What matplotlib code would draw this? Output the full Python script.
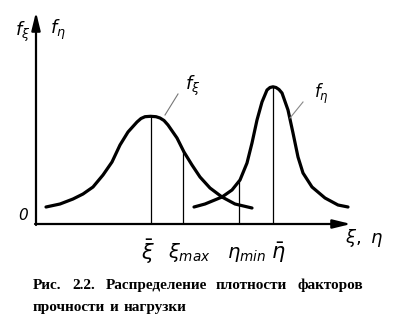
import matplotlib
matplotlib.use("Agg")
import matplotlib.pyplot as plt

plt.rcParams['mathtext.fontset'] = 'dejavusans'

# Strength distribution f_xi (x offset from vertical axis, height above horizontal axis)
xi_x = [10, 24, 37, 47, 57, 67, 76, 84, 92, 101, 105, 109, 114.5, 120, 124, 128, 132, 141, 148, 156, 164, 174, 186, 199, 216]
xi_y = [17, 20, 25, 30, 37, 49, 62, 79, 92, 102, 105.5, 107.3, 107.7, 107.3, 106, 103.5, 99, 86, 72, 59, 47, 36, 27, 20, 16]

# Load distribution f_eta
eta_x = [158, 169, 186, 196, 204, 211, 216, 221, 226, 231, 234, 237, 240, 243, 246, 252, 257, 262, 267, 276, 289, 302, 312]
eta_y = [17, 20, 27, 34, 44, 61, 81, 104, 122, 134, 136.5, 137.2, 136.5, 134.5, 131, 114, 91, 67, 51, 37, 26, 19, 17]

# Marked positions on the horizontal axis and the height of their drop lines
mark_x = [114.5, 147, 203, 237]
mark_h = [107.7, 73, 44, 137.2]
mark_labels = [r'$\bar{\xi}$', r'$\xi_{max}$', r'$\eta_{min}$', r'$\bar{\eta}$']

caption_line1 = ['Рис.', '2.2.', 'Распределение', 'плотности', 'факторов']
caption_line2 = ['прочности', 'и', 'нагрузки']

fig = plt.figure(figsize=(3.98, 3.26), dpi=100)
ax = fig.add_axes([0, 0, 1, 1])
ax.set_xlim(-36, 362)
ax.set_ylim(-102, 224)
ax.axis('off')

# axes with arrows
ax.annotate('', xy=(0, 212), xytext=(0, -1),
            arrowprops=dict(arrowstyle='-|>,head_length=0.9,head_width=0.22',
                            lw=1.6, color='black', shrinkA=0, shrinkB=0, mutation_scale=12))
ax.annotate('', xy=(315, 0), xytext=(-1, 0),
            arrowprops=dict(arrowstyle='-|>,head_length=0.9,head_width=0.22',
                            lw=1.6, color='black', shrinkA=0, shrinkB=0, mutation_scale=12))

# curves
ax.plot(xi_x, xi_y, color='black', lw=2.3, solid_capstyle='round', solid_joinstyle='round')
ax.plot(eta_x, eta_y, color='black', lw=2.3, solid_capstyle='round', solid_joinstyle='round')

# drop lines
ax.vlines(mark_x, 0, mark_h, color='black', lw=0.9)

# tick labels
label_offsets = [(-3, -28), (6, -29), (8, -30), (5, -29)]
label_sizes = [15, 14, 14, 15]
for x, lab, (dx, dy), fs in zip(mark_x, mark_labels, label_offsets, label_sizes):
    ax.text(x + dx, dy, lab, fontsize=fs, ha='center', va='center', color='black')

# axis labels
ax.text(-13, 192, r'$f_\xi$', fontsize=13, ha='center', va='center')
ax.text(22, 194, r'$f_\eta$', fontsize=13, ha='center', va='center')
ax.text(328, -14, r'$\xi,\ \eta$', fontsize=13, ha='center', va='center')
ax.text(-13, 9, '0', fontsize=11, fontstyle='italic', ha='center', va='center')

# curve labels with leader lines
ax.plot([129, 142], [109, 130], color='#777777', lw=0.8)
ax.text(157, 138, r'$f_\xi$', fontsize=13, ha='center', va='center')
ax.plot([254, 267], [106, 122], color='#888888', lw=0.8)
ax.text(285, 130, r'$f_\eta$', fontsize=12, ha='center', va='center')

# caption
line1_x = [-3, 36, 70, 180, 262]
line2_x = [-3, 74, 88]
for w, x in zip(caption_line1, line1_x):
    ax.text(x, -65, w, fontsize=11, fontfamily='Liberation Serif', fontweight='bold',
            ha='left', va='baseline')
for w, x in zip(caption_line2, line2_x):
    ax.text(x, -87, w, fontsize=11, fontfamily='Liberation Serif', fontweight='bold',
            ha='left', va='baseline')

fig.savefig('out.png', dpi=100, facecolor='white')
